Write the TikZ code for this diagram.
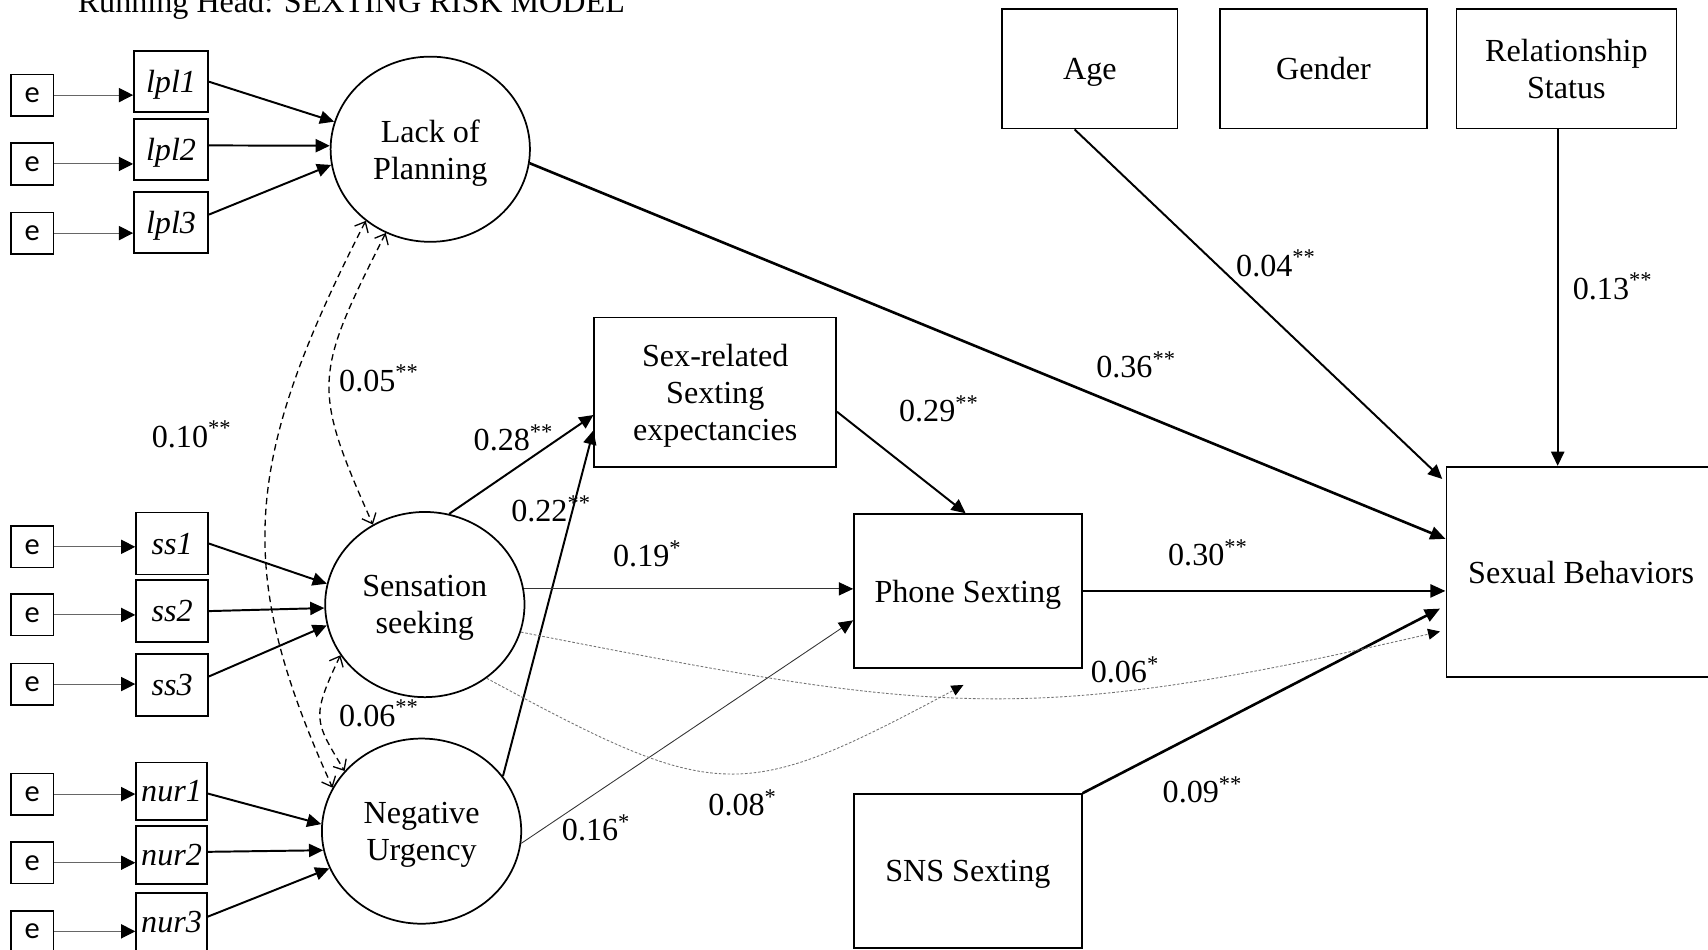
\documentclass[tikz,border=0pt]{standalone}
\usepackage{fontspec}
\setmainfont{Liberation Serif}
\newfontfamily\efont{Carlito}
\usetikzlibrary{arrows.meta,calc,shapes.geometric}
\begin{document}
\begin{tikzpicture}[x=0.5pt,y=-0.5pt,
  every node/.style={font=\fontsize{14.75pt}{17pt}\selectfont, inner sep=0pt},
  ebox/.style={draw, line width=0.8pt, minimum width=19.5pt, minimum height=19pt, font=\efont\fontsize{14pt}{16pt}\selectfont},
  ind/.style={draw, line width=0.8pt, text depth=0pt, font=\itshape\fontsize{14.75pt}{17pt}\selectfont},
  lat/.style={draw, ellipse, line width=0.8pt, minimum width=91.5pt, minimum height=85pt, align=center, text depth=0pt},
  obs/.style={draw, line width=0.8pt, align=center, text depth=0pt},
  lbl/.style={anchor=base west},
  eline/.style={draw=black!60, line width=0.5pt, -{Triangle[length=6.5pt,width=6.5pt,color=black]}},
  pathA/.style={line width=0.9pt, -{Triangle[length=6.5pt,width=6pt]}},
  pathT/.style={line width=1.2pt, -{Triangle[length=7pt,width=6pt]}},
  pathS/.style={draw=black!80, line width=0.4pt, -{Triangle[length=6.5pt,width=6pt,color=black]}},
  cov/.style={line width=0.6pt, dash pattern=on 3pt off 2pt, {Straight Barb[length=4pt,width=7pt]}-{Straight Barb[length=4pt,width=7pt]}},
  dotc/.style={draw=black!55, line width=0.4pt, dash pattern=on 1.2pt off 0.8pt, -{Triangle[length=5.5pt,width=5pt,color=black]}}
]
\useasboundingbox (0,0) rectangle (1568,872);

\node[lbl] (title) at (71,11.5) {Running Head: SEXTING RISK MODEL};

% error boxes
\node[ebox] (e1) at (29.5,87.3) {e};
\node[ebox] (e2) at (29.5,150.5) {e};
\node[ebox] (e3) at (29.5,214) {e};
\node[ebox] (e4) at (29.5,502) {e};
\node[ebox] (e5) at (29.5,564.5) {e};
\node[ebox] (e6) at (29.5,628) {e};
\node[ebox] (e7) at (29.5,729) {e};
\node[ebox] (e8) at (29.5,792) {e};
\node[ebox] (e9) at (29.5,855) {e};

% indicators
\node[ind, minimum width=34pt, minimum height=28pt] (lpl1) at (157,75) {lpl1};
\node[ind, minimum width=34pt, minimum height=28pt] (lpl2) at (157,137.5) {lpl2};
\node[ind, minimum width=34pt, minimum height=28pt] (lpl3) at (157,204) {lpl3};
\node[ind, minimum width=33pt, minimum height=28.5pt] (ss1) at (158,499) {ss1};
\node[ind, minimum width=33pt, minimum height=28.5pt] (ss2) at (158,561) {ss2};
\node[ind, minimum width=33pt, minimum height=28.5pt] (ss3) at (158,629) {ss3};
\node[ind, minimum width=32.5pt, minimum height=26.5pt] (nur1) at (157.5,726.5) {nur1};
\node[ind, minimum width=32.5pt, minimum height=26.5pt] (nur2) at (157.5,785) {nur2};
\node[ind, minimum width=32.5pt, minimum height=26.5pt] (nur3) at (157.5,846.5) {nur3};

% latent
\node[lat] (lop) at (395,137) {Lack of\\Planning};
\node[lat] (ss) at (390,555) {Sensation\\seeking};
\node[lat] (nu) at (387,763) {Negative\\Urgency};

% observed
\node[obs, minimum width=80.5pt, minimum height=55pt] (age) at (1000.5,63) {Age};
\node[obs, minimum width=95pt, minimum height=55pt] (gender) at (1215,63) {Gender};
\node[obs, minimum width=101pt, minimum height=55pt] (rel) at (1438,63) {Relationship\\Status};
\node[obs, minimum width=111pt, minimum height=68.5pt] (sex) at (656.6,360) {Sex-related\\Sexting\\expectancies};
\node[obs, minimum width=104.5pt, minimum height=70.5pt] (phone) at (888.5,542.5) {Phone Sexting};
\node[obs, minimum width=104.5pt, minimum height=70.5pt] (sns) at (888.5,799.5) {SNS Sexting};
\node[obs, minimum width=123.7pt, minimum height=96.5pt] (sb) at (1451.5,525) {Sexual Behaviors};

% error arrows
\foreach \e/\i in {e1/lpl1,e2/lpl2,e3/lpl3,e4/ss1,e5/ss2,e6/ss3,e7/nur1,e8/nur2,e9/nur3}
  \draw[eline] (\e.east) -- (\e.east -| \i.west);

% indicator arrows
\draw[pathA] (lpl1.east) -- (lop.164);
\draw[pathA] ($(lpl2.east)+(0,-4)$) -- (lop.178);
\draw[pathA] ($(lpl3.east)+(0,-7)$) -- (lop.189);
\draw[pathA] (ss1.east) -- (ss.168);
\draw[pathA] (ss2.east) -- (ss.182);
\draw[pathA] ($(ss3.east)+(0,-8)$) -- (ss.192);
\draw[pathA] ($(nur1.east)+(0,2)$) -- (nu.176);
\draw[pathA] ($(nur2.east)+(0,-3)$) -- (nu.191);
\draw[pathA] ($(nur3.east)+(0,-5)$) -- (nu.202);

% covariances
\draw[cov] (lop.242) .. controls (288,345) and (286,355) .. (ss.123);
\draw[cov] (lop.228) .. controls (222,425) and (215,524) .. (nu.154);
\draw[cov] (ss.211) .. controls (285,659.5) and (289,662) .. (nu.142);

% structural paths
\coordinate (relout) at ($(rel.south)+(-8,0)$);
\draw[pathT] (lop.-8) -- ($(sb.north west)+(0,67)$);
\draw[pathA] ($(age.south)+(-14,0)$) -- ($(sb.north west)+(-3,12)$);
\draw[pathA] (relout) -- (relout |- sb.north);
\draw[pathA] (ss.75) -- ($(sex.west)+(0,21)$);
\draw[pathA] (nu.34) -- ($(sex.west)+(0,35)$);
\draw[pathA] ($(sex.east)+(0,18)$) -- ($(phone.north)+(-2,0)$);
\draw[pathS] (ss.9) -- (ss.9 -| phone.west);
\draw[pathS] (nu.-7) -- ($(phone.west)+(0,27)$);
\draw[pathT] (phone.east) -- (phone.east -| sb.west);
\draw[pathT] (sns.north east) -- ($(sb.north west)+(-5,131)$);
\draw[dotc] (ss.-16) .. controls (860,655) and (940,668) .. ($(sb.north west)+(-5,152)$);
\draw[dotc] (ss.-50) .. controls (660,738) and (680,738) .. ($(phone.south)+(-4,15)$);

% labels
\node[lbl] (l05) at (311,359) {0.05\textsuperscript{**}};
\node[lbl] (l10) at (139,410.5) {0.10\textsuperscript{**}};
\node[lbl] (l28) at (434.5,414) {0.28\textsuperscript{**}};
\node[lbl] (l22) at (469,479) {0.22\textsuperscript{**}};
\node[lbl] (l29) at (825,387) {0.29\textsuperscript{**}};
\node[lbl] (l36) at (1006,347) {0.36\textsuperscript{**}};
\node[lbl] (l04) at (1134.5,253.5) {0.04\textsuperscript{**}};
\node[lbl] (l13) at (1443.5,274.5) {0.13\textsuperscript{**}};
\node[lbl] (l19) at (562.5,520) {0.19\textsuperscript{*}};
\node[lbl] (l30) at (1072,519.5) {0.30\textsuperscript{**}};
\node[lbl] (l06a) at (1001,626.5) {0.06\textsuperscript{*}};
\node[lbl] (l06b) at (311,666.5) {0.06\textsuperscript{**}};
\node[lbl] (l08) at (650,749) {0.08\textsuperscript{*}};
\node[lbl] (l16) at (515.5,772) {0.16\textsuperscript{*}};
\node[lbl] (l09) at (1067,737) {0.09\textsuperscript{**}};
\end{tikzpicture}
\end{document}
